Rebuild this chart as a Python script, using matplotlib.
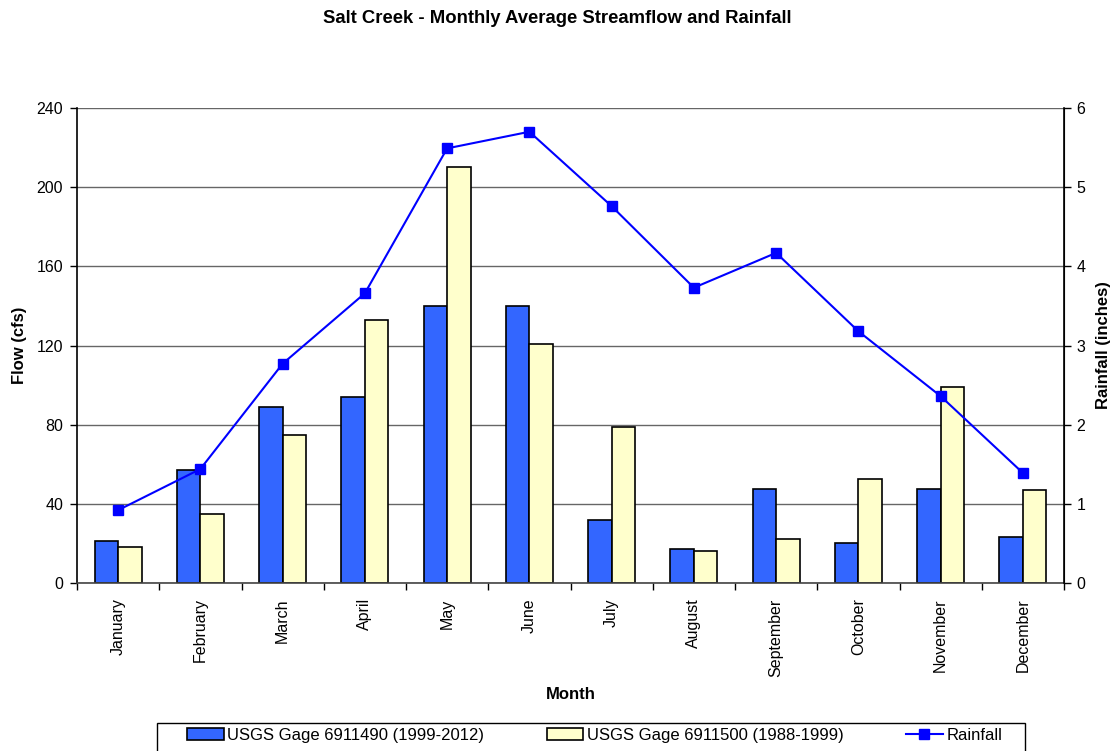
import numpy as np
import matplotlib.pyplot as plt
from matplotlib.patches import Rectangle
from matplotlib.ticker import MultipleLocator, FixedLocator, NullFormatter

plt.rcParams['font.family'] = ['Liberation Sans', 'DejaVu Sans']

# monthly averages
months = ['January', 'February', 'March', 'April', 'May', 'June', 'July',
          'August', 'September', 'October', 'November', 'December']
flow_6911490 = [21, 57, 89, 94, 140, 140, 32, 17, 47.5, 20, 47.5, 23]
flow_6911500 = [18, 35, 75, 133, 210, 121, 79, 16, 22, 52.5, 99, 47]
rainfall = [0.92, 1.44, 2.77, 3.66, 5.49, 5.70, 4.76, 3.73, 4.17, 3.18, 2.36, 1.39]

label_a = 'USGS Gage 6911490 (1999-2012)'
label_b = 'USGS Gage 6911500 (1988-1999)'

W, H = 1114, 751
fig = plt.figure(figsize=(W / 100, H / 100), dpi=100)
ax = fig.add_axes([77 / W, 168 / H, 987 / W, 475 / H])

x = np.arange(len(months))
w = 0.286
ax.bar(x - w / 2, flow_6911490, w, color='#3366FF', edgecolor='black',
       linewidth=1.2, label=label_a, zorder=2)
ax.bar(x + w / 2, flow_6911500, w, color='#FFFFCC', edgecolor='black',
       linewidth=1.2, label=label_b, zorder=2)

ax.set_xlim(-0.5, len(months) - 0.5)
ax.set_ylim(0, 240)
ax.yaxis.set_major_locator(MultipleLocator(40))
ax.yaxis.grid(True, color='#666666', linewidth=1, zorder=0)
ax.set_axisbelow(True)

# category labels centred, ticks between categories
ax.set_xticks(x)
ax.set_xticklabels(months, rotation=90, fontsize=11.5)
ax.tick_params(axis='x', which='major', length=0, pad=11)
ax.xaxis.set_minor_locator(FixedLocator(np.arange(-0.5, len(months), 1)))
ax.xaxis.set_minor_formatter(NullFormatter())
ax.tick_params(axis='x', which='minor', length=5, width=1, direction='out')
ax.tick_params(axis='y', length=5, width=1, direction='out', labelsize=11.5, pad=5)

ax.spines['top'].set_visible(False)
ax.spines['left'].set_linewidth(1.2)
ax.spines['bottom'].set_linewidth(1.2)
ax.spines['bottom'].set_color('#444444')

ax.set_ylabel('Flow (cfs)', fontsize=12, fontweight='bold')
ax.yaxis.set_label_coords(-(77 - 27) / 987, 0.5)
ax.set_xlabel('Month', fontsize=12, fontweight='bold')
ax.xaxis.set_label_coords(0.5, -(687 - 583) / 475)

ax2 = ax.twinx()
ax2.plot(x, rainfall, color='#0000FF', linewidth=1.5, marker='s',
         markersize=7, label='Rainfall', zorder=3)
ax2.set_ylim(0, 6)
ax2.yaxis.set_major_locator(MultipleLocator(1))
ax2.tick_params(axis='y', length=5, width=1, direction='out', labelsize=11.5, pad=4)
for s in ['top', 'left', 'bottom']:
    ax2.spines[s].set_visible(False)
ax2.spines['right'].set_linewidth(1.2)
ax2.set_ylabel('Rainfall (inches)', fontsize=12, fontweight='bold')
ax2.yaxis.set_label_coords((1096 - 77) / 987, 0.5)

fig.text(0.5, 1 - 10 / H, 'Salt Creek - Monthly Average Streamflow and Rainfall',
         fontsize=13.3, fontweight='bold', ha='center', va='top')

# legend box runs off the bottom edge, so draw its frame separately
fig.patches.append(Rectangle((157 / W, -0.01), 868 / W, 0.01 + 28 / H,
                             transform=fig.transFigure, facecolor='white',
                             edgecolor='black', linewidth=1, zorder=1))
h1, l1 = ax.get_legend_handles_labels()
h2, l2 = ax2.get_legend_handles_labels()
leg = fig.legend(h1 + h2, l1 + l2, loc='upper left', ncol=3, mode='expand',
                 bbox_to_anchor=(187 / W, 1 - 728 / H, 815 / W, 0),
                 fontsize=12, frameon=False, borderpad=0,
                 handlelength=2.2, handleheight=0.75, handletextpad=0.2,
                 borderaxespad=0)
leg.set_zorder(2)

fig.savefig('out.png', dpi=100)
